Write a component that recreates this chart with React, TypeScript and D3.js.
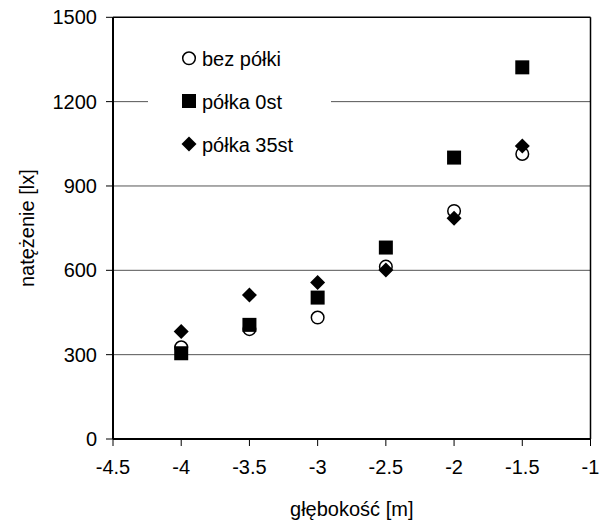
import React from "react";
import * as d3 from "d3";

const depths = [-4, -3.5, -3, -2.5, -2, -1.5];
const bezPolki = [326, 391, 432, 613, 811, 1014];
const polka0 = [305, 406, 503, 681, 1001, 1322];
const polka35 = [382, 512, 557, 601, 785, 1042];
const xTicks = [-4.5, -4, -3.5, -3, -2.5, -2, -1.5, -1];
const yTicks = [0, 300, 600, 900, 1200, 1500];
const legendLabels = ["bez półki", "półka 0st", "półka 35st"];

const W = 611;
const H = 524;
const L = 113, R = 590.5, T = 17.3, B = 439;
const font = "'Liberation Sans', Arial, sans-serif";
const FS = 20;

export default function App() {
  const x = d3.scaleLinear().domain([-4.5, -1]).range([L, R]);
  const y = d3.scaleLinear().domain([0, 1500]).range([B, T]);
  const diamond = (cx: number, cy: number, r: number) =>
    `M${cx},${cy - r}L${cx + r},${cy}L${cx},${cy + r}L${cx - r},${cy}Z`;

  const marker = (kind: number, cx: number, cy: number, key: string) => {
    if (kind === 0)
      return <circle key={key} cx={cx} cy={cy} r={6.3} fill="white" stroke="black" strokeWidth={1.5} />;
    if (kind === 1)
      return <rect key={key} x={cx - 7} y={cy - 7} width={14} height={14} fill="black" />;
    return <path key={key} d={diamond(cx, cy, 7.5)} fill="black" />;
  };

  const series = [bezPolki, polka0, polka35];
  const legendY = [58.3, 101, 144];

  return (
    <svg width={W} height={H} style={{ position: "absolute", left: 0, top: 0, background: "white" }}>
      <rect width={W} height={H} fill="white" />
      {yTicks.slice(1, 5).map((t) => (
        <line key={"g" + t} x1={L} x2={R} y1={y(t)} y2={y(t)} stroke="#555" strokeWidth={1} />
      ))}
      <line x1={L} x2={R} y1={T} y2={T} stroke="black" strokeWidth={1.5} />
      <line x1={R} x2={R} y1={T} y2={B} stroke="black" strokeWidth={1.5} />
      {/* legend background */}
      <rect x={148} y={36} width={183} height={128} fill="white" />
      {legendLabels.map((lab, i) => (
        <g key={lab}>
          {marker(i, 189, legendY[i], "lm" + i)}
          <text x={202} y={legendY[i] + 7.5} fontFamily={font} fontSize={FS} fill="black">{lab}</text>
        </g>
      ))}
      {series.map((s, k) => s.map((v, i) => marker(k, x(depths[i]), y(v), `m${k}-${i}`)))}
      {/* axes */}
      <line x1={L} x2={L} y1={T} y2={B} stroke="black" strokeWidth={2} />
      <line x1={L} x2={R} y1={B} y2={B} stroke="black" strokeWidth={2} />
      {yTicks.map((t) => (
        <g key={"yt" + t}>
          <line x1={L - 7} x2={L} y1={y(t)} y2={y(t)} stroke="black" strokeWidth={1} />
          <text x={L - 16} y={y(t) + 7} textAnchor="end" fontFamily={font} fontSize={FS} fill="black">{t}</text>
        </g>
      ))}
      {xTicks.map((t) => (
        <g key={"xt" + t}>
          <line x1={x(t)} x2={x(t)} y1={B} y2={B + 7} stroke="black" strokeWidth={1} />
          <text x={x(t)} y={474} textAnchor="middle" fontFamily={font} fontSize={FS} fill="black">{t}</text>
        </g>
      ))}
      <text x={(L + R) / 2} y={516} textAnchor="middle" fontFamily={font} fontSize={FS} fill="black">głębokość [m]</text>
      <text transform={`translate(34,${(T + B) / 2}) rotate(-90)`} textAnchor="middle" fontFamily={font} fontSize={FS} fill="black">natężenie [lx]</text>
    </svg>
  );
}
